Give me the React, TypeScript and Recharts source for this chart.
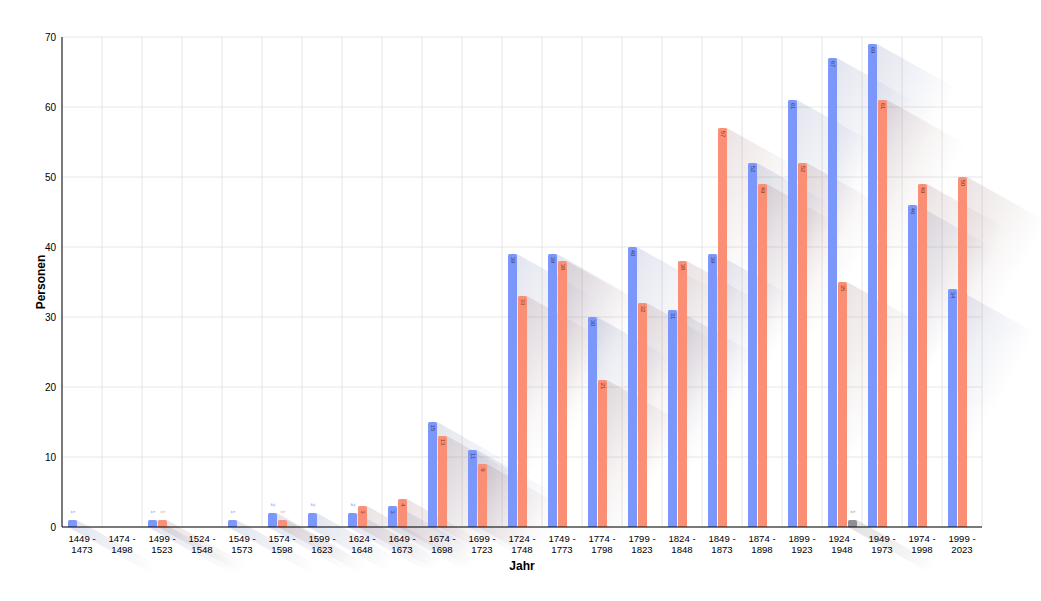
import { BarChart, Bar, XAxis, YAxis, CartesianGrid, LabelList, Label } from "recharts";

const PERIODS = [
  "1449 - 1473", "1474 - 1498", "1499 - 1523", "1524 - 1548", "1549 - 1573",
  "1574 - 1598", "1599 - 1623", "1624 - 1648", "1649 - 1673", "1674 - 1698",
  "1699 - 1723", "1724 - 1748", "1749 - 1773", "1774 - 1798", "1799 - 1823",
  "1824 - 1848", "1849 - 1873", "1874 - 1898", "1899 - 1923", "1924 - 1948",
  "1949 - 1973", "1974 - 1998", "1999 - 2023",
];
const MAENNLICH = [1, 0, 1, 0, 1, 2, 2, 2, 3, 15, 11, 39, 39, 30, 40, 31, 39, 52, 61, 67, 69, 46, 34];
const WEIBLICH = [0, 0, 1, 0, 0, 1, 0, 3, 4, 13, 9, 33, 38, 21, 32, 38, 57, 49, 52, 35, 61, 49, 50];
const UNBEKANNT = [0, 0, 0, 0, 0, 0, 0, 0, 0, 0, 0, 0, 0, 0, 0, 0, 0, 0, 0, 1, 0, 0, 0];
const Y_TICKS = [0, 10, 20, 30, 40, 50, 60, 70];

const data = PERIODS.map((period, i) => ({
  period,
  m: MAENNLICH[i],
  w: WEIBLICH[i],
  u: UNBEKANNT[i],
}));

const COLORS = { m: "#7b97fb", w: "#fb8f76", u: "#8e8e94" };
const SHADOW = { m: "#5b679f", w: "#8c5c5a", u: "#555555" };
const LABEL_IN = { m: "#34407a", w: "#7a3a2a", u: "#444" };
const BAR = 9;
const GAP = 1;
const LEN = 80;
const SLOPE = 0.56;

function shadow(id: string, color: string, x: number, y: number, w: number, h: number) {
  if (h <= 0) return null;
  const pts = [
    [x, y], [x + w, y], [x + w + LEN, y + SLOPE * LEN],
    [x + w + LEN, y + h + SLOPE * LEN], [x + LEN, y + h + SLOPE * LEN], [x, y + h],
  ].map((p) => p.join(",")).join(" ");
  return (
    <g key={id}>
      <defs>
        <linearGradient id={id} gradientUnits="userSpaceOnUse" x1={x + w} y1={y} x2={x + w + LEN} y2={y + SLOPE * LEN}>
          <stop offset="0%" stopColor={color} stopOpacity={0.17} />
          <stop offset="60%" stopColor={color} stopOpacity={0.07} />
          <stop offset="100%" stopColor={color} stopOpacity={0} />
        </linearGradient>
      </defs>
      <polygon points={pts} fill={`url(#${id})`} />
    </g>
  );
}

function roundedTop(x: number, y: number, w: number, h: number, fill: string) {
  if (h <= 0) return null;
  const r = Math.min(2, h);
  const d = `M${x},${y + h} L${x},${y + r} Q${x},${y} ${x + r},${y} L${x + w - r},${y} Q${x + w},${y} ${x + w},${y + r} L${x + w},${y + h} Z`;
  return <path d={d} fill={fill} />;
}

// the first series draws the shadows of all three bars in its category
function MShape(props: any) {
  const { x, y, width, height, payload, index } = props;
  const base = y + height;
  const ppu = payload.m > 0 ? height / payload.m : 0;
  const hw = payload.w * ppu;
  const hu = payload.u * ppu;
  return (
    <g>
      {shadow(`sm${index}`, SHADOW.m, x, y, width, height)}
      {shadow(`sw${index}`, SHADOW.w, x + width + GAP, base - hw, width, hw)}
      {shadow(`su${index}`, SHADOW.u, x + 2 * (width + GAP), base - hu, width, hu)}
      {roundedTop(x, y, width, height, COLORS.m)}
    </g>
  );
}

function plainShape(key: "w" | "u") {
  return (props: any) => {
    const { x, y, width, height } = props;
    return <g>{roundedTop(x, y, width, height, COLORS[key])}</g>;
  };
}

function valueLabel(key: "m" | "w" | "u") {
  return (props: any) => {
    const { x, y, width, value } = props;
    if (!value) return null;
    const cx = x + width / 2;
    const inside = value >= 3;
    const ty = inside ? y + 6 : y - 8;
    return (
      <text
        x={cx}
        y={ty}
        transform={`rotate(90 ${cx} ${ty})`}
        textAnchor="middle"
        dominantBaseline="central"
        fontSize={6}
        fill={inside ? LABEL_IN[key] : COLORS[key]}
      >
        {value}
      </text>
    );
  };
}

function PeriodTick(props: any) {
  const { x, y, payload } = props;
  const [a, b] = String(payload.value).split(" - ");
  return (
    <text x={x} y={y} textAnchor="middle" fontSize={9.6} fill="#000">
      <tspan x={x} dy={6.5}>{`${a} -`}</tspan>
      <tspan x={x} dy={11.5}>{b}</tspan>
    </text>
  );
}

// vertical grid lines sit on the category boundaries
const bandEdges = ({ offset }: any) =>
  [...PERIODS.map((_, i) => i), PERIODS.length].map((i) => offset.left + (i * offset.width) / PERIODS.length);

export default function App() {
  return (
    <div style={{ position: "absolute", left: 0, top: 0 }}>
      <BarChart
        width={1041}
        height={601}
        data={data}
        margin={{ top: 37, right: 59, bottom: 31, left: 20 }}
        barGap={GAP}
        style={{ fontFamily: "'Liberation Sans', Arial, sans-serif" }}
      >
        <CartesianGrid stroke="#e6e6e6" verticalCoordinatesGenerator={bandEdges} />
        <XAxis
          dataKey="period"
          interval={0}
          tickLine={false}
          axisLine={{ stroke: "#000" }}
          tick={<PeriodTick />}
          height={43}
        >
          <Label value="Jahr" position="insideBottom" offset={0} style={{ fontWeight: 700, fontSize: 12, fill: "#000" }} />
        </XAxis>
        <YAxis
          domain={[0, 70]}
          ticks={Y_TICKS}
          width={42}
          tickLine={false}
          tickSize={4}
          tickMargin={2}
          axisLine={{ stroke: "#000" }}
          tick={{ fontSize: 10, fill: "#000" }}
        >
          <Label value="Personen" angle={-90} position="center" style={{ fontWeight: 700, fontSize: 12, fill: "#000" }} />
        </YAxis>
        <Bar dataKey="m" barSize={BAR} shape={<MShape />} isAnimationActive={false}>
          <LabelList dataKey="m" content={valueLabel("m")} />
        </Bar>
        <Bar dataKey="w" barSize={BAR} shape={plainShape("w")} isAnimationActive={false}>
          <LabelList dataKey="w" content={valueLabel("w")} />
        </Bar>
        <Bar dataKey="u" barSize={BAR} shape={plainShape("u")} isAnimationActive={false}>
          <LabelList dataKey="u" content={valueLabel("u")} />
        </Bar>
      </BarChart>
    </div>
  );
}
